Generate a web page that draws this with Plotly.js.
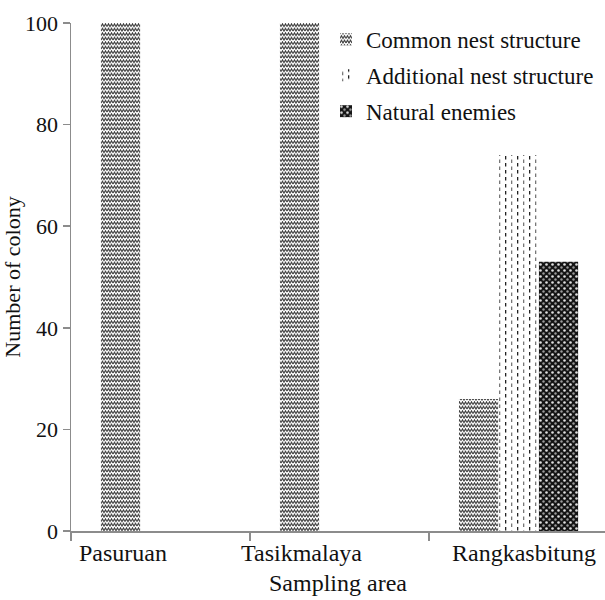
<!DOCTYPE html>
<html>
<head>
<meta charset="utf-8">
<script src="https://cdn.plot.ly/plotly-3.0.1.min.js"></script>
<style>
  html, body { margin: 0; padding: 0; background: #fff; overflow: hidden; }
  #chart { width: 605px; height: 600px; }
</style>
</head>
<body>
<div id="chart"></div>
<script>
// ---- data ----
const categories = ['Pasuruan', 'Tasikmalaya', 'Rangkasbitung'];
const seriesNames = ['Common nest structure', 'Additional nest structure', 'Natural enemies'];
const commonNest = [100, 100, 26];
const additionalNest = [0, 0, 74];
const naturalEnemies = [0, 0, 53];
const yTickValues = [0, 20, 40, 60, 80, 100];

// ---- styling ----
const FONT = 'Liberation Serif, Times New Roman, serif';
const AXIS_GREY = '#8c8c8c';
const patternIds = ['pat-zig', 'pat-dash', 'pat-dots'];
const fallbackPatterns = [
  { shape: 'x', fgcolor: '#555', bgcolor: '#fff', size: 4, solidity: 0.3 },
  { shape: '|', fgcolor: '#333', bgcolor: '#fff', size: 6, solidity: 0.15 },
  { shape: '.', fgcolor: '#fff', bgcolor: '#111', size: 5, solidity: 0.4 }
];
// label offset (in category units) of each tick label relative to its category centre
const labelShift = [-0.21, -0.215, 0.03];

const seriesValues = [commonNest, additionalNest, naturalEnemies];
const traces = seriesValues.map((vals, i) => ({
  type: 'bar',
  name: seriesNames[i],
  x: categories,
  y: vals,
  legendgroup: 'g' + i,
  marker: { color: '#fff', line: { width: 0 }, pattern: fallbackPatterns[i] },
  hoverinfo: 'x+y+name'
}));

const annotations = categories.map((c, i) => ({
  xref: 'x', yref: 'paper',
  x: i + labelShift[i], y: 0,
  yshift: -7,
  xanchor: 'center', yanchor: 'top',
  text: c, showarrow: false,
  font: { family: FONT, size: 24, color: '#111' }
}));

const layout = {
  width: 605, height: 600,
  margin: { l: 71, r: 0, t: 23, b: 69, autoexpand: false },
  paper_bgcolor: '#fff', plot_bgcolor: '#fff',
  font: { family: FONT, size: 22, color: '#111' },
  barmode: 'group',
  bargap: 0.33,
  bargroupgap: 0.02,
  showlegend: true,
  legend: {
    x: 0.4775, y: 1.01, xanchor: 'left', yanchor: 'top',
    bgcolor: 'rgba(0,0,0,0)', borderwidth: 0,
    font: { family: FONT, size: 23, color: '#111' },
    traceorder: 'grouped', tracegroupgap: 3,
    itemwidth: 30
  },
  xaxis: {
    type: 'category',
    range: [-0.5, 2.483],
    showline: true, linecolor: AXIS_GREY, linewidth: 1.5,
    ticks: 'outside', tickson: 'boundaries', ticklen: 8, tickcolor: AXIS_GREY, tickwidth: 1.5,
    showticklabels: false,
    showgrid: false, zeroline: false, fixedrange: true,
    title: { text: 'Sampling area', font: { family: FONT, size: 24, color: '#111' }, standoff: 42 }
  },
  yaxis: {
    range: [0, 100],
    tickvals: yTickValues,
    showline: true, linecolor: AXIS_GREY, linewidth: 1.5,
    ticks: 'outside', ticklen: 7, tickcolor: AXIS_GREY, tickwidth: 1.5,
    tickfont: { family: FONT, size: 22, color: '#111' },
    showgrid: false, zeroline: false, fixedrange: true,
    title: { text: 'Number of colony', font: { family: FONT, size: 22, color: '#111' }, standoff: 12 }
  },
  annotations: annotations
};

const gd = document.getElementById('chart');
Plotly.newPlot(gd, traces, layout, { displayModeBar: false, staticPlot: true }).then(applyPatterns);

function applyPatterns() {
  const NS = 'http://www.w3.org/2000/svg';
  const svg = gd.querySelector('svg.main-svg');
  if (!svg) return;
  let defs = svg.querySelector('defs');
  if (!defs) { defs = document.createElementNS(NS, 'defs'); svg.insertBefore(defs, svg.firstChild); }
  defs.insertAdjacentHTML('beforeend',
    '<pattern id="pat-zig" patternUnits="userSpaceOnUse" width="6" height="4.5">' +
      '<rect width="6" height="4.5" fill="#fff"/>' +
      '<path d="M0,3.6 L1.5,0.9 L3,3.6 L4.5,0.9 L6,3.6" fill="none" stroke="#333" stroke-width="1.1"/>' +
    '</pattern>' +
    '<pattern id="pat-dash" patternUnits="userSpaceOnUse" width="12" height="7">' +
      '<rect width="12" height="7" fill="#fff"/>' +
      '<rect x="2" y="0" width="1.3" height="3.5" fill="#222"/>' +
      '<rect x="8" y="3.5" width="1.3" height="3.5" fill="#777"/>' +
    '</pattern>' +
    '<pattern id="pat-dots" patternUnits="userSpaceOnUse" width="6" height="6">' +
      '<rect width="6" height="6" fill="#141414"/>' +
      '<circle cx="1.5" cy="1.5" r="1.3" fill="#e0e0e0"/>' +
      '<circle cx="4.5" cy="4.5" r="1.2" fill="#9a9a9a"/>' +
    '</pattern>');

  gd.querySelectorAll('.barlayer .trace.bars').forEach((g, k) => {
    let idx = k;
    try { idx = g.__data__[0].trace.index; } catch (e) {}
    g.querySelectorAll('path').forEach(p => {
      p.style.fill = 'url(#' + patternIds[idx] + ')';
      p.style.stroke = 'none';
    });
  });
  gd.querySelectorAll('.legend .traces').forEach((g, k) => {
    let idx = k;
    try { idx = g.__data__[0].trace.index; } catch (e) {}
    g.querySelectorAll('.legendpoints path').forEach(p => {
      p.style.fill = 'url(#' + patternIds[idx] + ')';
      p.style.stroke = 'none';
    });
  });
}
</script>
</body>
</html>
